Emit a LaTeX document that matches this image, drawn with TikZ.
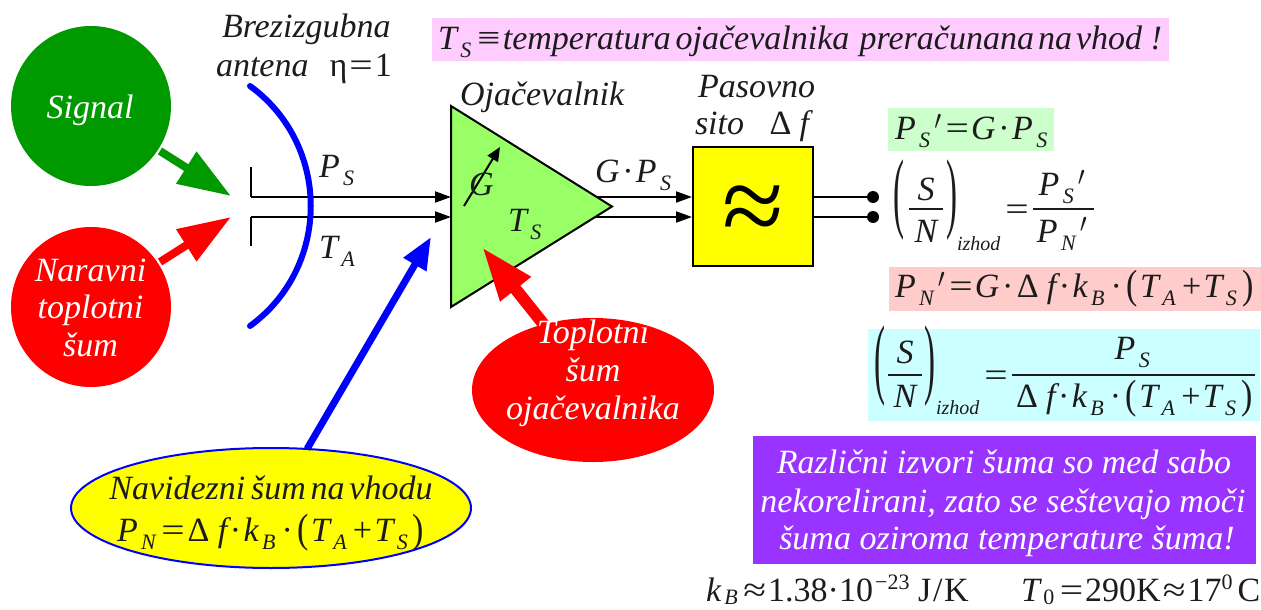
\documentclass[tikz,border=0pt]{standalone}
\usepackage{fontspec}
\setmainfont{Liberation Serif}
\usetikzlibrary{arrows.meta,shapes.geometric}
\definecolor{txt}{HTML}{1C1C1C}
\definecolor{ampgreen}{HTML}{99FF66}
\definecolor{darkgreen}{HTML}{009900}
\definecolor{boxyellow}{HTML}{FFFF00}
\definecolor{bandpink}{HTML}{FFCCFF}
\definecolor{bandgreen}{HTML}{CCFFCC}
\definecolor{bandred}{HTML}{FFCCCC}
\definecolor{bandcyan}{HTML}{CCFFFF}
\definecolor{violetbox}{HTML}{9933FF}
\newcommand\sbs[1]{\kern.1em\raisebox{-8pt}{\fontsize{22}{22}\selectfont\itshape #1}\kern.1em}
\newcommand\sbb[1]{\kern.1em\raisebox{-3pt}{\fontsize{22}{22}\selectfont\itshape #1}\kern.1em}
\newcommand\opr[1]{\kern.08em{\upshape #1}\kern.07em}
\newcommand\eqs{\kern.06em{\upshape\scalebox{1.22}[1]{=}}\kern.06em}
\newcommand\apxs{\kern.06em{\upshape\scalebox{1.22}[1]{≈}}\kern.06em}
\newcommand\dlt{\kern.03em{\upshape Δ}\kern.24em}
\newcommand\lp{\kern.05em\raisebox{-1.5pt}{\upshape\scalebox{1}[1.2]{(}}\kern.08em}
\newcommand\rp{\kern.05em\raisebox{-1.5pt}{\upshape\scalebox{1}[1.2]{)}}}
\newcommand\prm{\kern.02em{\upshape\scalebox{1}[1.1]{$'$}}\kern.06em}
\newcommand\bigparen[1]{\scalebox{1}[2.7]{#1}}
\newcommand\izh{\fontsize{20}{20}\selectfont\itshape izhod}
\tikzset{
  x=1pt,y=-1pt,
  lbl/.style={inner sep=0pt,outer sep=0pt,anchor=base west,text=txt,font=\fontsize{34}{34}\selectfont\itshape},
  lblc/.style={lbl,anchor=base},
  wlbl/.style={lblc,text=white},
  band/.style={inner sep=0pt,outer sep=0pt,draw=none},
  wire/.style={draw=black,line width=2pt},
  sig/.style={wire,-{Triangle[length=16pt,width=11pt]}},
  blob/.style={ellipse,inner sep=0pt,outer sep=0pt},
  rulebar/.style={line width=2pt,draw=txt},
}
\begin{document}
\begin{tikzpicture}
\useasboundingbox (0,0) rectangle (1261,610);
% colour bands
\node[band,fill=bandpink,minimum width=737pt,minimum height=43pt] (b1) at (800.5,40) {};
\node[band,fill=bandgreen,minimum width=166pt,minimum height=43pt] (b2) at (971,129.5) {};
\node[band,fill=bandred,minimum width=372pt,minimum height=44pt] (b3) at (1075,289) {};
\node[band,fill=bandcyan,minimum width=392pt,minimum height=92pt] (b4) at (1064,375) {};
\node[band,fill=violetbox,minimum width=503pt,minimum height=128pt] (b5) at (1004.5,500) {};
% coordinates
\coordinate (sU0) at (251,167);
\coordinate (cU) at (251,197);
\coordinate (aU) at (451,197);
\coordinate (sL0) at (251,246);
\coordinate (cL) at (251,217);
\coordinate (aL) at (451,217);
\coordinate (oU) at (590,197);
\coordinate (oL) at (590,217);
\coordinate (fU) at (692,197);
\coordinate (fL) at (692,217);
\coordinate (tipG) at (231,196);
\coordinate (tailG) at (160,151);
\coordinate (tipR) at (231,217);
\coordinate (tailR) at (160,262);
\coordinate (tipB) at (431,237);
\coordinate (tailB) at (307,449);
\coordinate (tipA) at (482,247);
\coordinate (tailA) at (545,326);
\coordinate (antT) at (250,86);
\coordinate (antB) at (250,326);
\coordinate (gA) at (464,206);
\coordinate (gB) at (500,147);
% input wires
\draw[wire] (sU0) -- (cU);
\draw[wire] (sL0) -- (cL);
\draw[sig] (cU) -- (aU);
\draw[sig] (cL) -- (aL);
% antenna
\draw[blue,line width=6pt,line cap=round] (antT) .. controls (331,145) and (331,267) .. (antB);
% output wires
\draw[sig] (oU) -- (fU);
\draw[sig] (oL) -- (fL);
% amplifier
\draw[fill=ampgreen,draw=black,line width=2pt,line join=miter] (451,106) -- (612,206.5) -- (451,307) -- cycle;
\draw[line width=2pt,-{Triangle[length=14pt,width=12pt]}] (gA) -- (gB);
% filter
\node[draw=black,fill=boxyellow,line width=2pt,minimum width=120pt,minimum height=119pt,inner sep=0pt,outer sep=0pt] (sito) at (753,206.5) {};
\node[inner sep=0pt,font=\fontsize{112}{112}\selectfont] (apx) at (753,215) {≈};
\node[circle,fill=black,minimum size=12pt,inner sep=0pt] (d1) at (873,197) {};
\node[circle,fill=black,minimum size=12pt,inner sep=0pt] (d2) at (873,217) {};
\draw[wire] (sito.east |- d1) -- (d1);
\draw[wire] (sito.east |- d2) -- (d2);
% sources
\node[blob,fill=darkgreen,minimum width=160pt,minimum height=160pt] (signal) at (91,106) {};
\node[blob,fill=red,minimum width=160pt,minimum height=160pt] (naravni) at (91,307) {};
\node[blob,fill=red,minimum width=242pt,minimum height=144pt] (toplotni) at (593,390) {};
\node[blob,fill=boxyellow,draw=blue,line width=2pt,minimum width=400pt,minimum height=120pt] (navidezni) at (271,508) {};
% fat arrows
\draw[darkgreen,line width=8pt,-{Triangle[length=53pt,width=36pt]}] (tailG) -- (tipG);
\draw[red,line width=8pt,-{Triangle[length=53pt,width=36pt]}] (tailR) -- (tipR);
\draw[blue,line width=7pt,-{Triangle[length=32pt,width=25pt]}] (tailB) -- (tipB);
\draw[red,line width=12pt,-{Triangle[length=54pt,width=36pt]}] (tailA) -- (tipA);
% labels left
\node[lbl] (t1) at (222,38) {Brezizgubna};
\node[lbl] (t2) at (216,77) {antena\kern.62em{\upshape η}\eqs{\upshape 1}};
\node[wlbl] (t3) at (90,118) {Signal};
\node[wlbl] (t4) at (90.5,281) {Naravni};
\node[wlbl] (t5) at (90.5,318) {toplotni};
\node[wlbl] (t6) at (90.5,356) {šum};
\node[wlbl] (t7) at (593,343) {Toplotni};
\node[wlbl] (t8) at (593,381) {šum};
\node[wlbl] (t9) at (593,419) {ojačevalnika};
\node[lblc] (t10) at (271,499) {Navidezni\kern.17em šum\kern.14em na\kern.14em vhodu};
\node[lbl] (t11) at (117,541) {P\sbs{N}\eqs\dlt f\opr{·}k\sbs{B}\opr{·}\lp T\sbs{A}\opr{+}T\sbs{S}\rp};
\node[lbl] (t12) at (319,177) {P\sbs{S}};
\node[lbl] (t13) at (319,258) {T\sbs{A}};
\node[lbl] (t14) at (460,105) {Ojačevalnik};
\node[lbl] (t15) at (469,195) {G};
\node[lbl] (t16) at (508,231) {T\sbs{S}};
\node[lbl] (t17) at (595,182) {G\opr{·}P\sbs{S}};
\node[lbl] (t18) at (698,97) {Pasovno};
\node[lbl] (t19) at (695,134) {sito\kern.72em\dlt f};
% top formula
\node[lbl] (t20) at (438,50) {T\sbs{S}\opr{\scalebox{1.2}[1]{≡}}temperatura\kern.14em ojačevalnika\kern.3em preračunana\kern.12em na\kern.12em vhod\kern.25em !};
% right formulas
\node[lbl] (t21) at (895,139) {P\sbs{S}\prm\eqs G\opr{·}P\sbs{S}};
\node[lbl] (t22) at (895,297) {P\sbs{N}\prm\eqs G\opr{·}\dlt f\opr{·}k\sbs{B}\opr{·}\lp T\sbs{A}\opr{+}T\sbs{S}\rp};
% first ratio
\node[lblc] (p1) at (898.5,221) {\bigparen{\upshape\fontsize{33}{33}\selectfont(}};
\node[lblc] (s1) at (926,200) {S};
\node[lblc] (n1) at (926,242) {N};
\draw[rulebar] (909,209) -- (943,209);
\node[lblc] (q1) at (952,221) {\bigparen{\upshape\fontsize{33}{33}\selectfont)}};
\node[lbl] (iz1) at (957,250) {\izh};
\node[lblc] (e1) at (1017,220) {\eqs};
\draw[rulebar] (1033,209) -- (1094,209);
\node[lblc] (u1) at (1063,195) {P\sbs{S}\prm};
\node[lblc] (v1) at (1063,242) {P\sbs{N}\prm};
% second ratio
\node[lblc] (p2) at (880,387) {\bigparen{\upshape\fontsize{33}{33}\selectfont(}};
\node[lblc] (s2) at (905,363) {S};
\node[lblc] (n2) at (905,407) {N};
\draw[rulebar] (888,375) -- (922,375);
\node[lblc] (q2) at (930,387) {\bigparen{\upshape\fontsize{33}{33}\selectfont)}};
\node[lbl] (iz2) at (936,414) {\izh};
\node[lblc] (e2) at (996,386) {\eqs};
\draw[rulebar] (1012,375) -- (1255,375);
\node[lblc] (u2) at (1134,359) {P\sbs{S}};
\node[lbl] (v2) at (1015,407) {\dlt f\opr{·}k\sbs{B}\opr{·}\lp T\sbs{A}\opr{+}T\sbs{S}\rp};
% purple note
\node[wlbl] (r1) at (1004,473) {Različni izvori šuma so med sabo};
\node[wlbl] (r2) at (1003,512) {nekorelirani, zato se seštevajo moči};
\node[wlbl] (r3) at (1007,549) {šuma oziroma temperature šuma!};
% constants
\node[lbl] (k1) at (706,601) {k\sbb{B}\apxs{\upshape 1.38·10\raisebox{12pt}{\fontsize{22}{22}\selectfont \kern.1em−23}\kern.25em J\kern.05em/\kern.05em K}};
\node[lbl] (k2) at (1021,601) {T\sbb{\upshape 0}\eqs{\upshape 290K\apxs 17\raisebox{12pt}{\fontsize{22}{22}\selectfont 0}\kern.15em C}};
\end{tikzpicture}
\end{document}
